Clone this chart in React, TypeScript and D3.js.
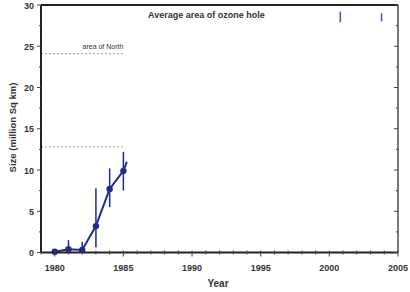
import React from "react";
import * as d3 from "d3";

const years = [1980, 1981, 1982, 1983, 1984, 1985];
const sizes = [0.1, 0.4, 0.3, 3.2, 7.7, 9.9];
const errLow = [0.0, 0.0, 0.0, 0.6, 5.5, 7.5];
const errHigh = [0.4, 1.5, 1.3, 7.8, 10.2, 12.2];
const trailYear = 1985.25;
const trailValue = 11.0;
const refLines = [24.1, 12.8];
const refLabel = "area of North";
const topMarkYears = [2000.8, 2003.8];
const topMarkLow = [27.9, 28.0];
const topMarkHigh = [29.2, 29.0];
const xTicks = [1980, 1985, 1990, 1995, 2000, 2005];
const yTicks = [0, 5, 10, 15, 20, 25, 30];
const title = "Average area of ozone hole";

export default function App() {
  const W = 410, H = 292;
  const L = 41, R = 398, T = 5, B = 252.5;
  const x = d3.scaleLinear().domain([1979, 2005]).range([L, R]);
  const y = d3.scaleLinear().domain([0, 30]).range([B, T]);
  const blue = "#1f2a8f";
  const txt = "#333";
  const line = d3.line<number>().x((_, i) => x(years[i])).y((d) => y(d));
  const minorX = d3.range(1979, 2006);
  const minorY = d3.range(0, 30.1, 2.5);
  return (
    <svg width={W} height={H} style={{ position: "absolute", left: 0, top: 0, background: "#fff" }}
      fontFamily="Liberation Sans, Arial, sans-serif">
      {refLines.map((v, i) => (
        <line key={i} x1={L} x2={x(1985)} y1={y(v)} y2={y(v)} stroke="#888" strokeWidth={0.8} strokeDasharray="2,2" />
      ))}
      <text x={x(1985)} y={y(refLines[0]) - 5} fontSize={7} textAnchor="end" fill={txt}>{refLabel}</text>
      <text x={148} y={18} fontSize={9} fontWeight="bold" fill={txt}>{title}</text>
      {topMarkYears.map((yr, i) => (
        <line key={i} x1={x(yr)} x2={x(yr)} y1={y(topMarkHigh[i])} y2={y(topMarkLow[i])} stroke={blue} strokeWidth={1.5} opacity={0.8} />
      ))}
      {years.map((yr, i) => (
        <line key={i} x1={x(yr)} x2={x(yr)} y1={y(errLow[i])} y2={y(errHigh[i])} stroke={blue} strokeWidth={1.5} />
      ))}
      <path d={line(sizes) || ""} fill="none" stroke={blue} strokeWidth={2} />
      <line x1={x(1985)} y1={y(sizes[5])} x2={x(trailYear)} y2={y(trailValue)} stroke={blue} strokeWidth={2} />
      {years.map((yr, i) => (
        <circle key={i} cx={x(yr)} cy={y(sizes[i])} r={3.2} fill={blue} />
      ))}
      <line x1={L} x2={R} y1={T} y2={T} stroke="#222" strokeWidth={2} />
      <line x1={L} x2={R} y1={B} y2={B} stroke="#222" strokeWidth={2} />
      <line x1={L} x2={L} y1={T} y2={B} stroke="#222" strokeWidth={2} />
      <line x1={R} x2={R} y1={T} y2={B} stroke="#222" strokeWidth={1.2} />
      {minorX.map((v) => (
        <line key={"mx" + v} x1={x(v)} x2={x(v)} y1={B - 2} y2={B + (v % 5 === 0 ? 4 : 2)} stroke="#444" strokeWidth={1} />
      ))}
      {minorY.map((v) => (
        <g key={"my" + v}>
          <line x1={L - (v % 5 === 0 ? 4 : 2)} x2={L} y1={y(v)} y2={y(v)} stroke="#444" strokeWidth={1} />
          <line x1={R - (v % 5 === 0 ? 4 : 2)} x2={R} y1={y(v)} y2={y(v)} stroke="#444" strokeWidth={1} />
        </g>
      ))}
      {xTicks.map((v) => (
        <text key={"xt" + v} x={x(v)} y={B + 18.5} fontSize={9} fontWeight="bold" textAnchor="middle" fill={txt}>{v}</text>
      ))}
      {yTicks.map((v) => (
        <text key={"yt" + v} x={L - 7} y={y(v) + 3.5} fontSize={9} fontWeight="bold" textAnchor="end" fill={txt}>{v}</text>
      ))}
      <text x={218} y={287} fontSize={10} fontWeight="bold" textAnchor="middle" fill={txt}>Year</text>
      <text transform={`translate(15.5,127.5) rotate(-90)`} fontSize={9.5} fontWeight="bold" textAnchor="middle" fill={txt}>Size (million Sq km)</text>
    </svg>
  );
}
